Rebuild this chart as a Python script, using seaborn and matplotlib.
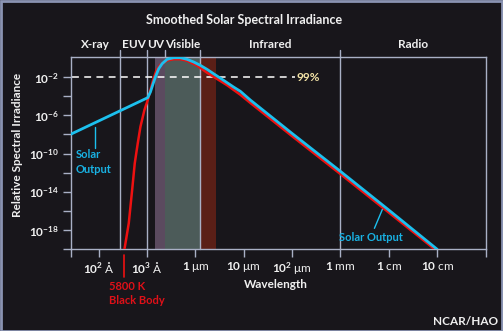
import numpy as np
import pandas as pd
import matplotlib
matplotlib.use("Agg")
import matplotlib.pyplot as plt
import seaborn as sns
from matplotlib.lines import Line2D
from matplotlib.patches import Rectangle
import matplotlib.ticker as mticker

# ---------------- data (log10 wavelength [m], log10 relative irradiance) ----------------
solar_logwl = [-8.585, -6.988, -6.932, -6.876, -6.829, -6.760, -6.690, -6.587, -6.450,
               -6.312, -6.174, -6.037, -5.899, -5.760, -5.624, -5.417, -5.211, -5.072,
               -4.866, -4.0, -3.0, -2.0, -1.0]
solar_logirr = [-7.99, -4.16, -3.57, -2.70, -2.00, -1.13, -0.61, -0.15, 0.02,
                0.02, -0.15, -0.43, -0.78, -1.20, -1.66, -2.35, -3.05, -3.49,
                -4.40, -7.90, -11.86, -15.90, -20.0]

bb_logwl = [-7.469, -7.380, -7.310, -7.256, -7.194, -7.138, -7.056, -6.988, -6.932,
            -6.876, -6.808, -6.725, -6.587, -6.450, -6.312, -6.174, -5.967, -5.760,
            -5.554, -5.347, -5.072, -4.866, -4.0, -3.0, -2.0, -1.0]
bb_logirr = [-20.0, -17.29, -13.81, -11.02, -8.93, -7.19, -5.45, -4.43, -3.39,
             -2.34, -1.30, -0.71, -0.28, -0.14, -0.14, -0.30, -0.80, -1.55,
             -2.20, -2.85, -3.85, -4.70, -8.18, -12.14, -16.16, -20.2]

band_names = ["X-ray", "EUV", "UV", "Visible", "Infrared", "Radio"]
band_edges_logwl = [-8.585, -7.566, -7.0, -6.636, -5.913, -3.0, 0.0]
shade_spans_logwl = [(-6.843, -6.636), (-6.636, -5.913), (-5.913, -5.568)]
shade_colors = ["#5b4a5f", "#4c5b59", "#5a1f17"]

xtick_logwl = [-8, -7, -6, -5, -4, -3, -2, -1]
xtick_labels = [r"$\mathbf{10^2}$ Å", r"$\mathbf{10^3}$ Å", r"$\mathbf{1}$ μm",
                r"$\mathbf{10}$ μm", r"$\mathbf{10^2}$ μm", r"$\mathbf{1}$ mm",
                r"$\mathbf{1}$ cm", r"$\mathbf{10}$ cm"]
ytick_logirr = [-20, -18, -16, -14, -12, -10, -8, -6, -4, -2]
ytick_labeled = [-18, -14, -10, -6, -2]

percent_level = -2.0

# ---------------- style ----------------
BG = "#18161b"
FG = "#f0f0f0"
AXC = "#a9b0c6"
CYAN = "#1cc0ee"
RED = "#ee1111"

sns.set_theme(style="dark")
plt.rcParams["font.family"] = ["Lato", "DejaVu Sans"]
plt.rcParams["mathtext.fontset"] = "custom"
plt.rcParams["mathtext.rm"] = "Lato"
plt.rcParams["mathtext.bf"] = "Lato:bold"
plt.rcParams["mathtext.it"] = "Lato:italic"

W, H = 503, 331
fig = plt.figure(figsize=(W / 100, H / 100), dpi=100, facecolor=BG)
ax = fig.add_axes([70.5 / W, 1 - 249.3 / H, 415 / W, 192 / H])
ax.set_facecolor(BG)

ax.set_xscale("log")
ax.set_yscale("log")
ax.set_xlim(10 ** -8.585, 10 ** 0.0)
ax.set_ylim(1e-20, 10 ** 0.06)

# shaded bands
for (a, b), c in zip(shade_spans_logwl, shade_colors):
    ax.axvspan(10 ** a, 10 ** b, color=c, lw=0, zorder=0.5)

# band separators (extend above the frame)
for e in band_edges_logwl[1:-1]:
    inside = e not in (-6.636,)
    y0 = 0.0 if inside else 1.0
    ax.add_line(Line2D([10 ** e, 10 ** e], [y0, 1.04], transform=ax.get_xaxis_transform(),
                       color=AXC, lw=1.0, clip_on=False, zorder=1))

for i, name in enumerate(band_names):
    mid = 0.5 * (band_edges_logwl[i] + band_edges_logwl[i + 1])
    ax.text(10 ** mid, 1.04, name, transform=ax.get_xaxis_transform(), ha="center",
            va="bottom", color=FG, fontsize=8.5, fontweight="bold")

# 99% line
ax.plot([10 ** -8.55, 10 ** -3.95], [10 ** percent_level] * 2, color="#ffffff", lw=1.1,
        dashes=(4.5, 3.5), zorder=2)
ax.text(10 ** -3.92, 10 ** percent_level, "99%", color="#f3e3a6", fontsize=8.5,
        fontweight="bold", va="center", ha="left")

# curves
bb = pd.DataFrame({"wl": np.power(10.0, bb_logwl), "irr": np.power(10.0, bb_logirr)})
so = pd.DataFrame({"wl": np.power(10.0, solar_logwl), "irr": np.power(10.0, solar_logirr)})
sns.lineplot(data=bb, x="wl", y="irr", ax=ax, color=RED, lw=1.8, sort=False,
             estimator=None, zorder=3)
sns.lineplot(data=so, x="wl", y="irr", ax=ax, color=CYAN, lw=2.0, sort=False,
             estimator=None, zorder=4)
ax.set_xlim(10 ** -8.585, 10 ** 0.0)
ax.set_ylim(1e-20, 10 ** 0.06)

# ticks
ax.xaxis.set_major_locator(mticker.FixedLocator([10.0 ** v for v in xtick_logwl]))
ax.xaxis.set_major_formatter(mticker.FixedFormatter(xtick_labels))
ax.xaxis.set_minor_locator(mticker.FixedLocator([10 ** -8.585, 1.0]))
ax.xaxis.set_minor_formatter(mticker.NullFormatter())
ax.yaxis.set_major_locator(mticker.FixedLocator([10.0 ** v for v in ytick_logirr]))
ax.yaxis.set_major_formatter(mticker.FixedFormatter(
    [r"$\mathbf{10^{%d}}$" % v if v in ytick_labeled else "" for v in ytick_logirr]))
ax.yaxis.set_minor_locator(mticker.NullLocator())
ax.tick_params(axis="both", which="both", direction="out", color=AXC, width=1.0,
               length=5.5, labelcolor=FG, labelsize=8.5, bottom=True, left=True)
ax.tick_params(axis="x", pad=2.5)
ax.tick_params(axis="y", pad=3)
for s in ax.spines.values():
    s.set_color(AXC)
    s.set_linewidth(1.0)
ax.grid(False)

ax.set_xlabel("")
ax.set_ylabel("")
fig.text(276 / W, 1 - 284 / H, "Wavelength", color=FG, fontsize=8.5,
         fontweight="bold", ha="center", va="center")
fig.text(18 / W, 1 - 144.5 / H, "Relative Spectral Irradiance", color=FG, fontsize=8.5,
         fontweight="bold", ha="center", va="center", rotation=90)
fig.text(244.5 / W, 1 - 19.5 / H, "Smoothed Solar Spectral Irradiance", color=FG,
         fontsize=9, fontweight="bold", ha="center", va="center")
fig.text(498 / W, 1 - 321.7 / H, "NCAR/HAO", color=FG, fontsize=8.5, fontweight="bold",
         ha="right", va="center")

# annotations
ax.text(10 ** -8.48, 10 ** -10.05, "Solar", color="#19b2e4", fontsize=8,
        fontweight="bold", ha="left", va="center")
ax.text(10 ** -8.48, 10 ** -11.62, "Output", color="#19b2e4", fontsize=8,
        fontweight="bold", ha="left", va="center")
ax.plot([10 ** -8.068] * 2, [10 ** -7.22, 10 ** -9.42], color=CYAN, lw=1.0)
ax.text(10 ** -2.368, 10 ** -18.75, "Solar Output", color="#19b2e4", fontsize=8,
        fontweight="bold", ha="center", va="center")
ax.plot([10 ** -2.298, 10 ** -2.132], [10 ** -17.81, 10 ** -15.82], color=CYAN, lw=1.0)

fig.add_artist(Line2D([124 / W, 124 / W], [1 - 255 / H, 1 - 277 / H], color=RED, lw=1.2))
fig.text(109 / W, 1 - 286 / H, "5800 K", color="#e01018", fontsize=8,
         fontweight="bold", ha="left", va="center")
fig.text(109 / W, 1 - 300 / H, "Black Body", color="#e01018", fontsize=8,
         fontweight="bold", ha="left", va="center")

# outer border
fig.add_artist(Rectangle((0.5 / W, 0.5 / H), 1 - 1.5 / W, 1 - 1.5 / H, transform=fig.transFigure,
                         fill=False, edgecolor="#8a93b2", lw=2.0))

fig.savefig("out.png", dpi=100, facecolor=BG)
